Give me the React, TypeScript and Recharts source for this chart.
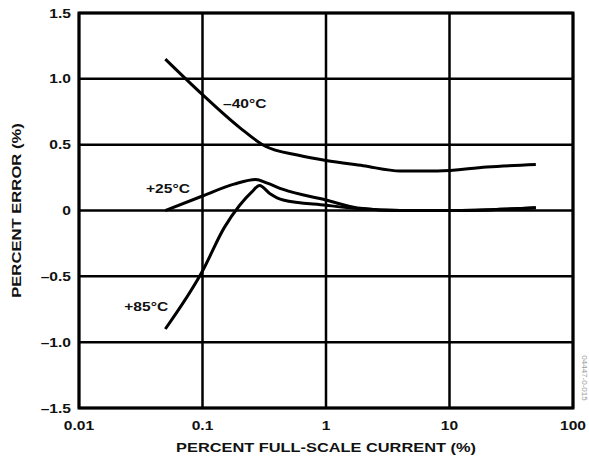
import React from 'react';
import {
  LineChart,
  Line,
  XAxis,
  YAxis,
  CartesianGrid,
  ReferenceArea,
  ReferenceDot,
  Label,
} from 'recharts';

// x = percent full-scale current (%), y = percent error (%)
const xTicks = [0.01, 0.1, 1, 10, 100];
const yTicks = [-1.5, -1, -0.5, 0, 0.5, 1, 1.5];
const yTickLabels = ['–1.5', '–1.0', '–0.5', '0', '0.5', '1.0', '1.5'];

const minus40 = [
  { x: 0.05, y: 1.15 },
  { x: 0.1, y: 0.88 },
  { x: 0.2, y: 0.63 },
  { x: 0.32, y: 0.49 },
  { x: 0.6, y: 0.42 },
  { x: 1, y: 0.38 },
  { x: 2, y: 0.34 },
  { x: 4, y: 0.3 },
  { x: 8, y: 0.3 },
  { x: 20, y: 0.33 },
  { x: 50, y: 0.35 },
];

const plus25 = [
  { x: 0.05, y: 0 },
  { x: 0.1, y: 0.11 },
  { x: 0.18, y: 0.2 },
  { x: 0.27, y: 0.235 },
  { x: 0.33, y: 0.21 },
  { x: 0.45, y: 0.16 },
  { x: 1, y: 0.08 },
  { x: 1.8, y: 0.02 },
  { x: 4, y: 0 },
  { x: 10, y: 0 },
  { x: 50, y: 0.02 },
];

const plus85 = [
  { x: 0.05, y: -0.9 },
  { x: 0.1, y: -0.46 },
  { x: 0.15, y: -0.13 },
  { x: 0.2, y: 0.04 },
  { x: 0.25, y: 0.14 },
  { x: 0.29, y: 0.19 },
  { x: 0.35, y: 0.13 },
  { x: 0.45, y: 0.08 },
  { x: 1, y: 0.04 },
  { x: 1.8, y: 0.015 },
  { x: 4, y: 0 },
  { x: 10, y: 0 },
  { x: 50, y: 0.02 },
];

const FONT = '"Liberation Sans", Arial, sans-serif';

const XTick = ({ x, y, payload }: any) => (
  <g transform={`translate(${x},${y + 22}) scale(1.3,1)`}>
    <text textAnchor="middle" fontFamily={FONT} fontWeight="bold" fontSize={12} fill="#111">
      {payload.value}
    </text>
  </g>
);

const YTick = ({ x, y, payload }: any) => {
  const i = yTicks.indexOf(payload.value);
  return (
    <g transform={`translate(${x - 8},${y + 4.5}) scale(1.3,1)`}>
      <text textAnchor="end" fontFamily={FONT} fontWeight="bold" fontSize={12} fill="#111">
        {yTickLabels[i]}
      </text>
    </g>
  );
};

const XTitle = ({ viewBox }: any) => (
  <g transform={`translate(${viewBox.x + viewBox.width / 2},${viewBox.y + 44}) scale(1.26,1)`}>
    <text textAnchor="middle" fontFamily={FONT} fontWeight="bold" fontSize={13} fill="#111">
      PERCENT FULL-SCALE CURRENT (%)
    </text>
  </g>
);

const YTitle = ({ viewBox }: any) => (
  <g transform={`translate(21,${viewBox.y + viewBox.height / 2}) rotate(-90) scale(1.28,1)`}>
    <text textAnchor="middle" fontFamily={FONT} fontWeight="bold" fontSize={13} fill="#111">
      PERCENT ERROR (%)
    </text>
  </g>
);

const curveLabel = (text: string) => (props: any) => (
  <g transform={`translate(${props.cx},${props.cy + 4}) scale(1.3,1)`}>
    <text textAnchor="middle" fontFamily={FONT} fontWeight="bold" fontSize={12} fill="#111">
      {text}
    </text>
  </g>
);

export default function App() {
  return (
    <div style={{ position: 'absolute', left: 0, top: 0, width: 589, height: 461, background: '#fff' }}>
      <LineChart width={589} height={461} margin={{ top: 13, right: 16, left: 0, bottom: 0 }}>
        <CartesianGrid stroke="#000" strokeWidth={2.5} />
        <XAxis
          dataKey="x"
          type="number"
          scale="log"
          domain={[0.01, 100]}
          ticks={xTicks}
          allowDataOverflow
          axisLine={false}
          tickLine={false}
          tickSize={0}
          tickMargin={0}
          height={53}
          tick={<XTick />}
        >
          <Label content={<XTitle />} />
        </XAxis>
        <YAxis
          type="number"
          domain={[-1.5, 1.5]}
          ticks={yTicks}
          axisLine={false}
          tickLine={false}
          tickSize={0}
          tickMargin={0}
          width={79}
          tick={<YTick />}
        >
          <Label content={<YTitle />} />
        </YAxis>
        <ReferenceArea
          x1={0.01}
          x2={100}
          y1={-1.5}
          y2={1.5}
          fill="none"
          stroke="#000"
          strokeWidth={3}
          ifOverflow="visible"
        />
        <Line data={minus40} dataKey="y" type="monotone" stroke="#000" strokeWidth={3} dot={false} isAnimationActive={false} />
        <Line data={plus25} dataKey="y" type="monotone" stroke="#000" strokeWidth={3} dot={false} isAnimationActive={false} />
        <Line data={plus85} dataKey="y" type="monotone" stroke="#000" strokeWidth={3} dot={false} isAnimationActive={false} />
        <ReferenceDot x={0.22} y={0.81} r={0} shape={curveLabel('–40°C')} ifOverflow="visible" />
        <ReferenceDot x={0.0525} y={0.16} r={0} shape={curveLabel('+25°C')} ifOverflow="visible" />
        <ReferenceDot x={0.035} y={-0.73} r={0} shape={curveLabel('+85°C')} ifOverflow="visible" />
      </LineChart>
      <div
        style={{
          position: 'absolute',
          left: 584,
          top: 378,
          transform: 'translate(-50%,-50%) rotate(90deg)',
          fontFamily: FONT,
          fontSize: 8,
          lineHeight: '8px',
          color: '#999',
          whiteSpace: 'nowrap',
        }}
      >
        04447-0-015
      </div>
    </div>
  );
}
